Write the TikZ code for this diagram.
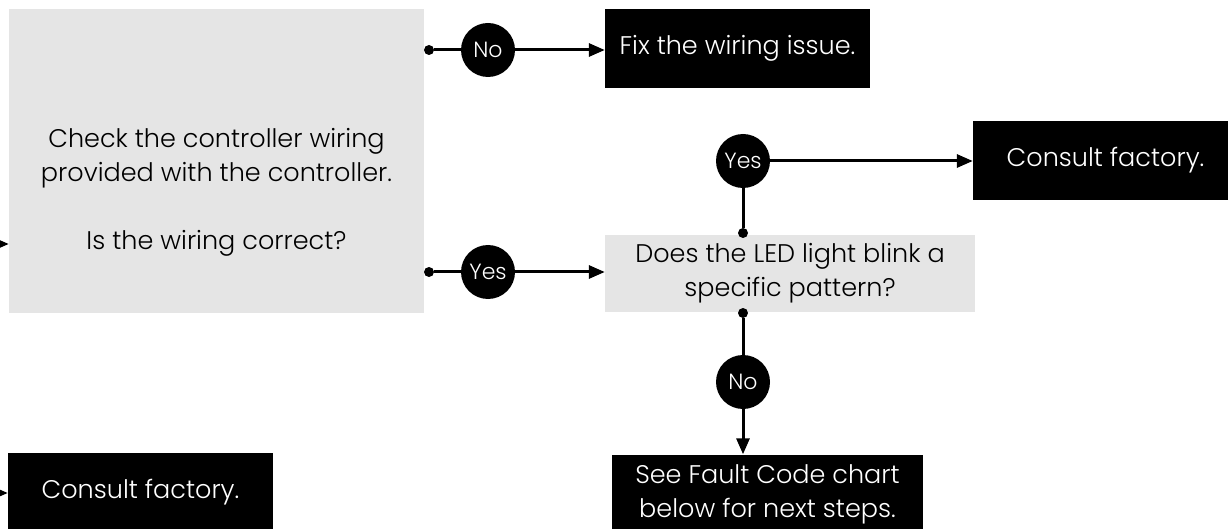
\documentclass[tikz,border=0pt]{standalone}
\usepackage{fontspec}
\usepackage{xcolor}
\setmainfont{Poppins}[UprightFont=* Light]
\usetikzlibrary{arrows.meta}
\definecolor{boxgray}{RGB}{229,229,229}

\begin{document}
\begin{tikzpicture}[x=1pt, y=-1pt,
  txt/.style={font=\fontsize{25.5}{34}\selectfont, align=center},
  greybox/.style={txt, fill=boxgray, inner sep=0pt},
  blackbox/.style={txt, fill=black, text=white, inner sep=0pt,
    minimum width=265pt, minimum height=79pt},
  answer/.style={circle, fill=black, text=white, inner sep=0pt,
    minimum size=54pt, font=\fontsize{22}{26}\selectfont},
  dot/.style={circle, fill=black, inner sep=0pt, minimum size=10pt},
  link/.style={line width=3pt},
  arrow/.style={link, -{Triangle[length=16pt,width=13pt]}}]
\useasboundingbox (0,0) rectangle (1228,529);

% boxes
\node[greybox, minimum width=415pt, minimum height=304pt] (check) at (216.5,161) {};
\node[txt] (checktext) at (216.5,192) {Check the controller wiring\\provided with the controller.\\[34pt]Is the wiring correct?};
\node[greybox, minimum width=370pt, minimum height=77pt] (led) at (790,273.5) {Does the LED light blink a\\specific pattern?};
\node[blackbox] (fix) at (737.5,48.5) {Fix the wiring issue.};
\node[blackbox] (factoryA) at (1105.5,160.5) {Consult factory.};
\node[blackbox] (factoryB) at (140.5,492.5) {Consult factory.};
\node[blackbox, minimum width=311pt] (fault) at (767.5,494) {See Fault Code chart\\below for next steps.};

% answers
\node[answer] (noA) at (488,50) {No};
\node[answer] (yesA) at (488,272) {Yes};
\node[answer] (yesB) at (743,161) {Yes};
\node[answer] (noB) at (743,382) {No};

% dots
\node[dot] (dotA) at (429,50) {};
\node[dot] (dotB) at (429,272) {};
\node[dot] (dotC) at (743,233) {};
\node[dot] (dotD) at (743,313) {};

% free ends
\coordinate (inCheck) at (-20,244);
\coordinate (inFactory) at (-20,493);

% connectors
\draw[link] (dotA) -- (noA);
\draw[arrow] (noA) -- (noA -| fix.west);
\draw[link] (dotB) -- (yesA);
\draw[arrow] (yesA) -- (yesA -| led.west);
\draw[link] (dotC) -- (yesB);
\draw[arrow] (yesB) -- (yesB -| factoryA.west);
\draw[link] (dotD) -- (noB);
\draw[arrow] (noB) -- (noB |- fault.north);
\draw[arrow] (inCheck) -- (inCheck -| check.west);
\draw[arrow] (inFactory) -- (inFactory -| factoryB.west);
\end{tikzpicture}
\end{document}
